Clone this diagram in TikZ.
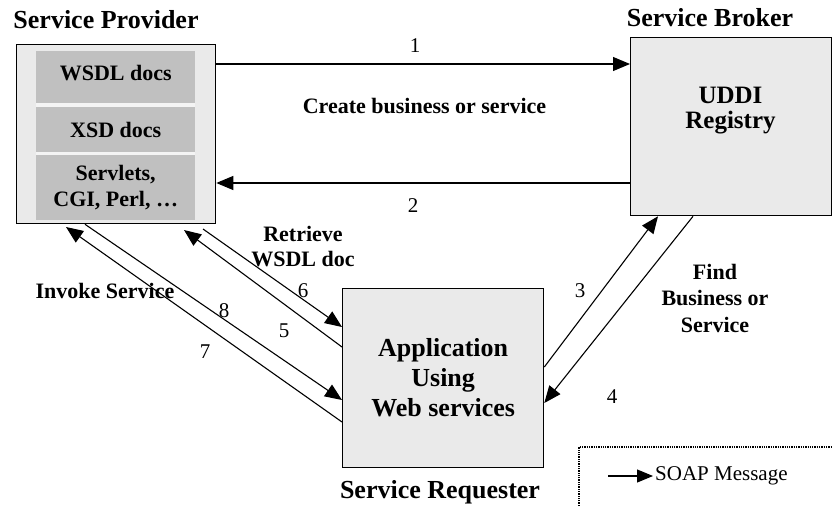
\documentclass[tikz,border=0pt]{standalone}
\usepackage{fontspec}
\setmainfont{Liberation Serif}
\usetikzlibrary{arrows.meta}
\definecolor{boxfill}{RGB}{234,234,234}
\definecolor{innerfill}{RGB}{192,192,192}
\definecolor{sepcol}{RGB}{244,244,244}
\begin{document}
\begin{tikzpicture}[x=1pt,y=-1pt,
  box/.style={draw, line width=1.3pt, fill=boxfill, inner sep=0pt, anchor=north west},
  inbox/.style={fill=innerfill, inner sep=0pt, anchor=north west, minimum width=159pt,
    font=\fontsize{22}{26}\selectfont\bfseries, align=center},
  title/.style={font=\fontsize{26}{30}\selectfont\bfseries, inner sep=0pt},
  lbl/.style={font=\fontsize{22}{25}\selectfont\bfseries, inner sep=0pt, align=center},
  num/.style={font=\fontsize{21}{25}\selectfont, inner sep=0pt},
  msg/.style={-{Triangle[length=17pt,width=14pt]}, line width=1.1pt},
  legarrow/.style={-{Triangle[length=16pt,width=13pt]}, line width=1.1pt}]
\useasboundingbox (0,0) rectangle (832,506);

% Service provider
\node[box, minimum width=199pt, minimum height=179pt] (sp) at (16,44) {};
\fill[sepcol] (36,103) rectangle (195,107);
\fill[sepcol] (36,152) rectangle (195,155);
\node[inbox, minimum height=52pt, text depth=9pt] (wsdl) at (36,51) {WSDL docs};
\node[inbox, minimum height=45pt] (xsd) at (36,107) {XSD docs};
\node[inbox, minimum height=65pt] (servlets) at (36,155) {Servlets,\\CGI, Perl, …};
\node[title, anchor=base] (tsp) at (106,28) {Service Provider};

% Service broker
\node[box, minimum width=201pt, minimum height=178pt] (broker) at (630,37) {};
\node[font=\fontsize{25}{25}\selectfont\bfseries, align=center, inner sep=0pt] (uddi) at (730.5,111) {UDDI\\Registry};
\node[title, anchor=base] (tsb) at (710,26) {Service Broker};

% Service requester
\node[box, minimum width=201pt, minimum height=179pt, align=center,
  font=\fontsize{26}{30}\selectfont\bfseries] (app) at (342,288) {Application\\Using\\Web services};
\node[title, anchor=base] (tsr) at (440,498) {Service Requester};

% free ends
\coordinate (t5) at (184,230);
\coordinate (s6) at (203,229);
\coordinate (t7) at (66,227);

% connectors
\draw[msg] (sp.east |- 0,64) -- (broker.west |- 0,64);
\draw[msg] (broker.west |- 0,183) -- (sp.east |- 0,183);
\draw[msg] (app.east |- 0,367) -- (broker.south -| 658,0);
\draw[msg] (broker.south -| 693,0) -- (app.east |- 0,403);
\draw[msg] (app.west |- 0,347) -- (t5);
\draw[msg] (s6) -- (app.west |- 0,327);
\draw[msg] (app.west |- 0,422) -- (t7);
\draw[msg] (sp.south -| 85,0) -- (app.west |- 0,400);

% labels
\node[num, anchor=base] (n1) at (415,52) {1};
\node[num, anchor=base] (n2) at (413,212) {2};
\node[num, anchor=base] (n3) at (580,297) {3};
\node[num, anchor=base] (n4) at (612,403) {4};
\node[num, anchor=base] (n5) at (284,337) {5};
\node[num, anchor=base] (n6) at (303,297) {6};
\node[num, anchor=base] (n7) at (205,358) {7};
\node[num, anchor=base] (n8) at (224,317) {8};
\node[lbl, anchor=base] (lcreate) at (424.5,113) {Create business or service};
\node[lbl] (lretr) at (303,247) {Retrieve\\WSDL doc};
\node[lbl, font=\fontsize{22}{26.5}\selectfont\bfseries] (lfind) at (715,298) {Find\\Business or\\Service};
\node[lbl, anchor=base] (linv) at (105,298) {Invoke Service};

% legend
\draw[densely dotted, line width=1.3pt] (579,506) -- (579,447) -- (832,447);
\coordinate (ls) at (608,476);
\node[num, anchor=west, inner sep=2pt] (soap) at (653,476) {SOAP Message};
\draw[legarrow] (ls) -- (soap.west);
\end{tikzpicture}
\end{document}
